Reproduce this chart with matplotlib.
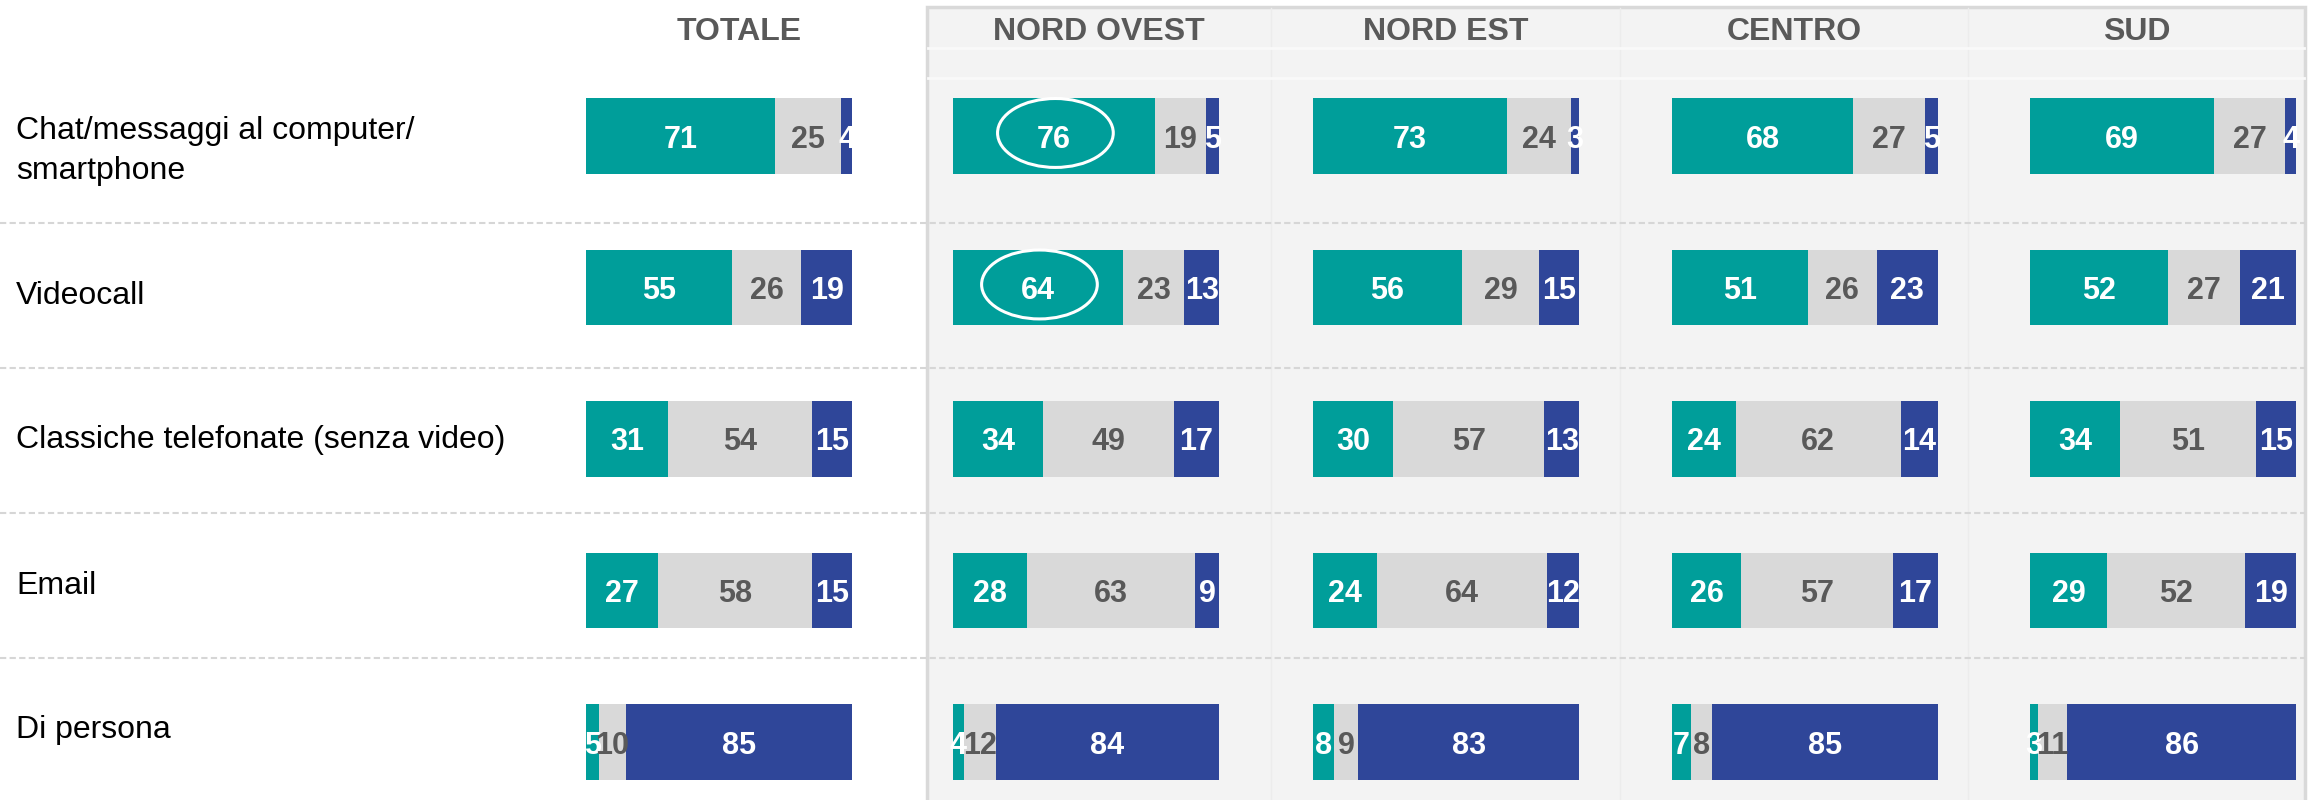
import numpy as np
import matplotlib.pyplot as plt
from matplotlib.patches import Ellipse, Rectangle

plt.rcParams['font.family'] = ['Liberation Sans', 'DejaVu Sans']

categories = [
    "Chat/messaggi al computer/\nsmartphone",
    "Videocall",
    "Classiche telefonate (senza video)",
    "Email",
    "Di persona",
]
areas = ["TOTALE", "NORD OVEST", "NORD EST", "CENTRO", "SUD"]

# three shares per channel (teal / grey / blue), one set of lists per area
totale_teal = [71, 55, 31, 27, 5]
totale_gray = [25, 26, 54, 58, 10]
totale_blue = [4, 19, 15, 15, 85]

nord_ovest_teal = [76, 64, 34, 28, 4]
nord_ovest_gray = [19, 23, 49, 63, 12]
nord_ovest_blue = [5, 13, 17, 9, 84]

nord_est_teal = [73, 56, 30, 24, 8]
nord_est_gray = [24, 29, 57, 64, 9]
nord_est_blue = [3, 15, 13, 12, 83]

centro_teal = [68, 51, 24, 26, 7]
centro_gray = [27, 26, 62, 57, 8]
centro_blue = [5, 23, 14, 17, 85]

sud_teal = [69, 52, 34, 29, 3]
sud_gray = [27, 27, 51, 52, 11]
sud_blue = [4, 21, 15, 19, 86]

# (area index, row index) of the circled values
highlighted = [(1, 0), (1, 1)]

TEAL = "#009E9A"
GRAY = "#D9D9D9"
BLUE = "#2F4699"
DARK = "#595959"

W, H = 2318, 800
fig = plt.figure(figsize=(W / 100, H / 100), dpi=100)

# background layer in pixel units: shaded regional block and separators
bg = fig.add_axes([0, 0, 1, 1])
bg.set_xlim(0, W)
bg.set_ylim(H, 0)
bg.axis("off")
bg.add_patch(Rectangle((927, 7), 2305 - 927, H, fc="#f3f3f3", ec="#d9d9d9", lw=2.5))
for xv in [1271, 1620, 1968]:
    bg.plot([xv, xv], [8, H], color="#ececec", lw=1.0)
for yh in [48, 78]:
    bg.plot([928, 2304], [yh, yh], color="#f9f9f9", lw=2)
for yd in [223, 368, 513, 658]:
    bg.plot([0, 2305], [yd, yd], color="#d6d6d6", lw=1.5, linestyle=(0, (3, 1.6)))

cell_edges = [551, 927, 1271, 1620, 1968, 2305]
for k, name in enumerate(areas):
    xc = (cell_edges[k] + cell_edges[k + 1]) / 2
    fig.text(xc / W, 1 - 40 / H, name, ha="center", va="baseline",
             fontsize=23, fontweight="bold", color=DARK)

row_c0, row_step = 136, 151.5
label_dy = [15, 8, 1, -4, -12]
for i, cat in enumerate(categories):
    yc = row_c0 + row_step * i + label_dy[i]
    fig.text(16 / W, 1 - yc / H, cat, ha="left", va="center",
             fontsize=23, color="black", linespacing=1.45)

panel_left = [586, 953, 1313, 1672, 2030]
panel_w = 266
series = [
    (totale_teal, totale_gray, totale_blue),
    (nord_ovest_teal, nord_ovest_gray, nord_ovest_blue),
    (nord_est_teal, nord_est_gray, nord_est_blue),
    (centro_teal, centro_gray, centro_blue),
    (sud_teal, sud_gray, sud_blue),
]

y = np.arange(len(categories))
for k, (teal, gray, blue) in enumerate(series):
    ax = fig.add_axes([panel_left[k] / W, 0, panel_w / W, 1])
    ax.set_xlim(0, 100)
    ax.set_ylim((H - row_c0) / row_step, -row_c0 / row_step)
    ax.axis("off")
    left = np.zeros(len(y))
    for vals, col, tcol in [(teal, TEAL, "white"), (gray, GRAY, DARK), (blue, BLUE, "white")]:
        vals = np.array(vals)
        ax.barh(y, vals, left=left, height=0.5, color=col, edgecolor="none")
        for yi, v, l0 in zip(y, vals, left):
            ax.text(l0 + v / 2, yi, f"{v}", ha="center", va="center_baseline",
                    fontsize=22, fontweight="bold", color=tcol, clip_on=False)
        left = left + vals
    for (a, r) in highlighted:
        if a == k:
            ax.add_patch(Ellipse((teal[r] / 2 + 0.5, r - 0.02), 43.5, 0.455,
                                 fill=False, ec="white", lw=2.2))

fig.savefig("out.png", dpi=100)
